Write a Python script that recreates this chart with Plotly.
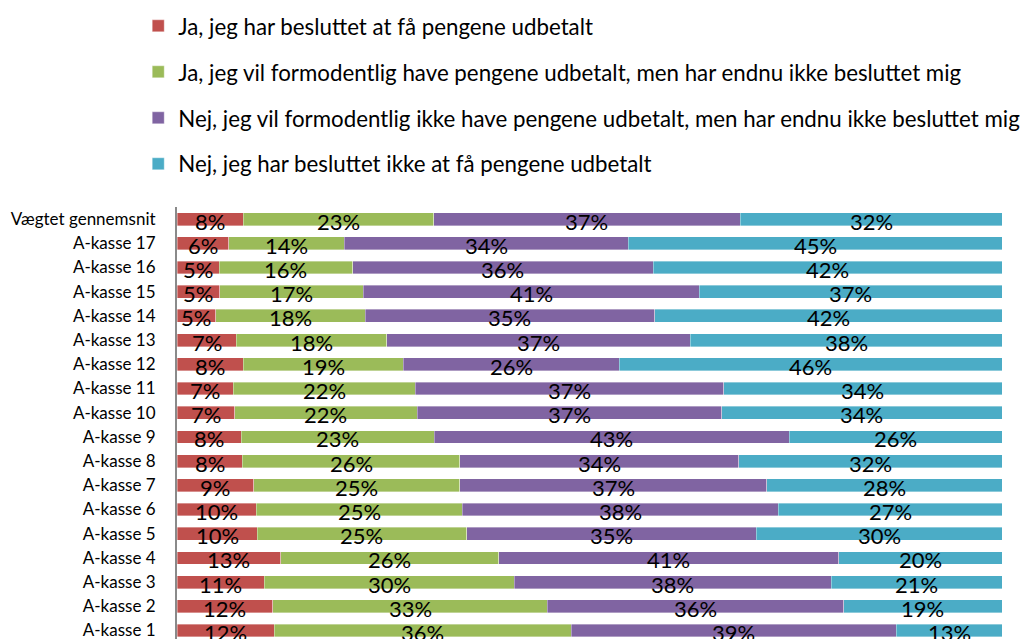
import plotly.graph_objects as go

categories = ["Vægtet gennemsnit", "A-kasse 17", "A-kasse 16", "A-kasse 15", "A-kasse 14",
              "A-kasse 13", "A-kasse 12", "A-kasse 11", "A-kasse 10", "A-kasse 9",
              "A-kasse 8", "A-kasse 7", "A-kasse 6", "A-kasse 5", "A-kasse 4",
              "A-kasse 3", "A-kasse 2", "A-kasse 1"]

series_names = [
    "Ja, jeg har besluttet at få pengene udbetalt",
    "Ja, jeg vil formodentlig have pengene udbetalt, men har endnu ikke besluttet mig",
    "Nej, jeg vil formodentlig ikke have pengene udbetalt, men har endnu ikke besluttet mig",
    "Nej, jeg har besluttet ikke at få pengene udbetalt",
]

ja_besluttet = [8.05, 6.3, 5.1, 5.2, 4.7, 7.2, 8.0, 6.8, 7.0, 7.8, 7.9, 9.3, 9.6, 9.7, 12.6, 10.6, 11.6, 11.8]
ja_formodentlig = [23.06, 14.0, 16.2, 17.4, 18.1, 18.2, 19.4, 22.1, 22.1, 23.4, 26.4, 25.0, 25.0, 25.4, 26.4, 30.3, 33.3, 36.0]
nej_formodentlig = [37.16, 34.4, 36.4, 40.7, 35.1, 36.8, 26.2, 37.4, 36.9, 43.0, 33.8, 37.2, 38.3, 35.1, 41.2, 38.4, 35.9, 39.4]
nej_besluttet = [31.73, 45.3, 42.3, 36.7, 42.1, 37.8, 46.4, 33.7, 34.0, 25.8, 31.9, 28.5, 27.1, 29.8, 19.8, 20.7, 19.2, 12.8]

colors = ["#C0504D", "#9BBB59", "#8064A2", "#4BACC6"]

all_series = [ja_besluttet, ja_formodentlig, nej_formodentlig, nej_besluttet]

fig = go.Figure()
for i, (name, vals, col) in enumerate(zip(series_names, all_series, colors)):
    fig.add_trace(go.Bar(
        y=categories, x=vals, name=name, orientation="h",
        marker=dict(color=col, line=dict(color="rgba(255,255,255,0.45)", width=0.8)),
        width=0.53, legendgroup=f"g{i}", hoverinfo="skip",
    ))

annotations = []
for ci, cat in enumerate(categories):
    start = 0.0
    for vals in all_series:
        v = vals[ci]
        annotations.append(dict(
            x=start + v / 2, y=cat, xref="x", yref="y",
            text=f"{round(v)}%", showarrow=False, yshift=-2,
            font=dict(family="Lato, sans-serif", size=22, color="black"),
        ))
        start += v

fig.update_layout(
    width=1033, height=639,
    barmode="stack",
    paper_bgcolor="white", plot_bgcolor="white",
    margin=dict(l=169, r=39, t=199, b=8, autoexpand=False),
    font=dict(family="Lato, sans-serif", color="black"),
    showlegend=True,
    legend=dict(
        xref="paper", yref="paper", x=-0.047, y=1.468,
        xanchor="left", yanchor="top", orientation="v",
        traceorder="grouped", tracegroupgap=14,
        font=dict(family="Lato, sans-serif", size=22.3, color="black"),
        bgcolor="rgba(0,0,0,0)", itemwidth=30,
    ),
    annotations=annotations,
)
fig.update_xaxes(range=[0, 100], showticklabels=False, showgrid=False, zeroline=False,
                 showline=False, fixedrange=True)
fig.update_yaxes(type="category", categoryorder="array", categoryarray=categories,
                 range=[17.35, -0.5], showgrid=False, zeroline=False, automargin=False,
                 showline=True, linecolor="#8a8a8a", linewidth=2, ticks="",
                 ticklabelstandoff=16,
                 tickfont=dict(family="Lato, sans-serif", size=17, color="black"))

fig.write_html("out.html")
